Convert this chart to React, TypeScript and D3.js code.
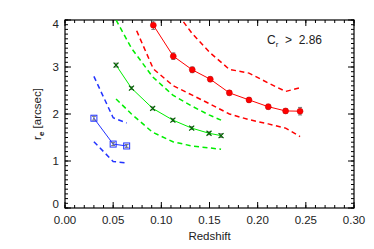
import * as d3 from 'd3';
import React from 'react';

// redshift bins and half-light radii for three colour samples
const blueZ = [0.030, 0.050, 0.064];
const blueRe = [1.91, 1.36, 1.32];
const blueErr = [0.04, 0.03, 0.03];
const blueHi = [2.80, 1.92, 1.81];
const blueLo = [1.41, 0.99, 0.96];

const greenZ = [0.053, 0.069, 0.091, 0.112, 0.1315, 0.1495, 0.162];
const greenRe = [3.04, 2.55, 2.12, 1.87, 1.70, 1.59, 1.54];
const greenErr = [0.04, 0.03, 0.03, 0.03, 0.03, 0.03, 0.04];
const greenHi = [4.0, 3.40, 2.79, 2.40, 2.17, 1.98, 1.87];
const greenLo = [2.32, 2.0, 1.61, 1.41, 1.32, 1.28, 1.25];

const redZ = [0.0917, 0.1124, 0.1321, 0.1508, 0.1706, 0.191, 0.211, 0.229, 0.244];
const redRe = [3.89, 3.23, 2.94, 2.74, 2.45, 2.30, 2.155, 2.065, 2.06];
const redErr = [0.09, 0.07, 0.06, 0.05, 0.05, 0.05, 0.05, 0.05, 0.08];
const redHiZ = [0.1124, 0.1321, 0.1508, 0.1706, 0.191, 0.211, 0.229, 0.244];
const redHi = [4.25, 3.71, 3.30, 2.95, 2.87, 2.66, 2.48, 2.56];
const redLoZ = [0.0744, 0.0917, 0.1124, 0.1321, 0.1508, 0.1706, 0.191, 0.211, 0.229, 0.244];
const redLo = [3.77, 2.96, 2.60, 2.40, 2.21, 2.0, 1.88, 1.79, 1.70, 1.52];

const xTicks = [0, 0.05, 0.1, 0.15, 0.2, 0.25, 0.3];
const yTicks = [0, 1, 2, 3, 4];

const RED = '#ff0000';
const GREEN = '#00ee00';
const BLUE = '#2233ff';

export default function App() {
  const width = 374;
  const height = 249;
  const margin = { top: 20, right: 20, bottom: 41, left: 65 };
  const iw = 354 - margin.left;
  const ih = 208 - margin.top;

  const x = d3.scaleLinear().domain([0, 0.3]).range([0, iw]);
  const y = d3.scaleLinear().domain([0, 4]).range([ih, 0]);

  const line = (zs: number[], vs: number[]) =>
    d3.line<number>().x((_, i) => x(zs[i])).y((v) => y(v))(vs) || '';

  const xMinor = d3.range(0, 0.3001, 0.01);
  const yMinor = d3.range(0, 4.001, 0.1);
  const font = 'Liberation Sans, Arial, sans-serif';

  const errBars = (zs: number[], vs: number[], es: number[], key: string) =>
    zs.map((z, i) => (
      <g key={`${key}-e${i}`} stroke="#777" strokeWidth={1}>
        <line x1={x(z)} x2={x(z)} y1={y(vs[i] - es[i])} y2={y(vs[i] + es[i])} />
        <line x1={x(z) - 2} x2={x(z) + 2} y1={y(vs[i] - es[i])} y2={y(vs[i] - es[i])} />
        <line x1={x(z) - 2} x2={x(z) + 2} y1={y(vs[i] + es[i])} y2={y(vs[i] + es[i])} />
      </g>
    ));

  return (
    <svg width={width} height={height} style={{ position: 'absolute', left: 0, top: 0 }}>
      <rect width={width} height={height} fill="#fff" />
      <defs>
        <clipPath id="plotArea">
          <rect x={0} y={0} width={iw} height={ih} />
        </clipPath>
      </defs>
      <g transform={`translate(${margin.left}, ${margin.top})`} fontFamily={font} fill="#222">
        {/* minor and major ticks on all four sides, pointing in */}
        <g stroke="#000" strokeWidth={1}>
          {xMinor.map((t, i) => (
            <g key={`xm${i}`}>
              <line x1={x(t)} x2={x(t)} y1={ih} y2={ih - 3} />
              <line x1={x(t)} x2={x(t)} y1={0} y2={3} />
            </g>
          ))}
          {xTicks.map((t, i) => (
            <g key={`xM${i}`}>
              <line x1={x(t)} x2={x(t)} y1={ih} y2={ih - 6} />
              <line x1={x(t)} x2={x(t)} y1={0} y2={6} />
            </g>
          ))}
          {yMinor.map((t, i) => (
            <g key={`ym${i}`}>
              <line x1={0} x2={3} y1={y(t)} y2={y(t)} />
              <line x1={iw} x2={iw - 3} y1={y(t)} y2={y(t)} />
            </g>
          ))}
          {yTicks.map((t, i) => (
            <g key={`yM${i}`}>
              <line x1={0} x2={6} y1={y(t)} y2={y(t)} />
              <line x1={iw} x2={iw - 6} y1={y(t)} y2={y(t)} />
            </g>
          ))}
        </g>
        <rect x={0} y={0} width={iw} height={ih} fill="none" stroke="#000" strokeWidth={1.2} />

        {xTicks.map((t, i) => (
          <text key={`xl${i}`} x={x(t)} y={ih + 16} fontSize={11.5} textAnchor="middle">
            {t.toFixed(2)}
          </text>
        ))}
        {yTicks.map((t, i) => (
          <text
            key={`yl${i}`}
            x={-6}
            y={Math.min(Math.max(y(t), 4), ih - 4)}
            fontSize={11.5}
            textAnchor="end"
            dominantBaseline="central"
          >
            {t}
          </text>
        ))}
        <text x={iw / 2} y={ih + 32} fontSize={11.5} textAnchor="middle">
          Redshift
        </text>
        <text transform={`translate(${-24}, ${ih / 2}) rotate(-90)`} fontSize={11.5} textAnchor="middle">
          r<tspan fontSize={8} dy={3} fontWeight="bold">e</tspan>
          <tspan dy={-3}> [arcsec]</tspan>
        </text>
        <text x={202} y={24} fontSize={12} style={{ whiteSpace: 'pre' }}>
          C<tspan fontSize={8} dy={3}>r</tspan>
          <tspan dy={-3}>{'  >  2.86'}</tspan>
        </text>

        <g clipPath="url(#plotArea)" fill="none" strokeWidth={1.5} strokeDasharray="5,3.5">
          <path d={line(blueZ, blueHi)} stroke={BLUE} />
          <path d={line(blueZ, blueLo)} stroke={BLUE} />
          <path d={line(greenZ, greenHi)} stroke={GREEN} />
          <path d={line(greenZ, greenLo)} stroke={GREEN} />
          <path d={line(redHiZ, redHi)} stroke={RED} />
          <path d={line(redLoZ, redLo)} stroke={RED} />
        </g>

        <path d={line(blueZ, blueRe)} fill="none" stroke={BLUE} strokeWidth={1} />
        <path d={line(greenZ, greenRe)} fill="none" stroke={GREEN} strokeWidth={1} />
        <path d={line(redZ, redRe)} fill="none" stroke={RED} strokeWidth={1} />

        {errBars(blueZ, blueRe, blueErr, 'b')}
        {errBars(greenZ, greenRe, greenErr, 'g')}
        {errBars(redZ, redRe, redErr, 'r')}

        {blueZ.map((z, i) => (
          <g key={`bp${i}`}>
            <rect x={x(z) - 3} y={y(blueRe[i]) - 3} width={6} height={6} fill="none" stroke={BLUE} strokeWidth={1} />
            <rect x={x(z) - 0.5} y={y(blueRe[i]) - 0.5} width={1} height={1} fill={BLUE} />
          </g>
        ))}
        {greenZ.map((z, i) => (
          <path
            key={`gp${i}`}
            d={`M${x(z) - 2.5},${y(greenRe[i]) - 2.5}L${x(z) + 2.5},${y(greenRe[i]) + 2.5}M${x(z) - 2.5},${y(greenRe[i]) + 2.5}L${x(z) + 2.5},${y(greenRe[i]) - 2.5}`}
            stroke="#006600"
            strokeWidth={1.2}
          />
        ))}
        {redZ.map((z, i) => (
          <circle key={`rp${i}`} cx={x(z)} cy={y(redRe[i])} r={3} fill={RED} stroke="#cc0000" strokeWidth={0.5} />
        ))}
      </g>
    </svg>
  );
}
